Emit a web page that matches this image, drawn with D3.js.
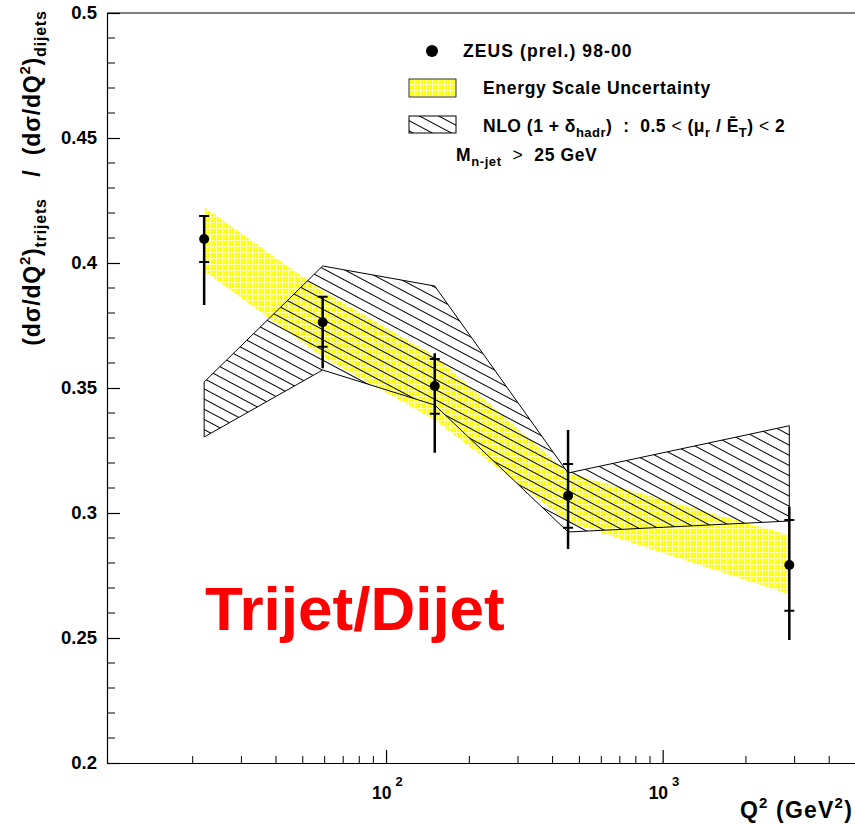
<!DOCTYPE html>
<html>
<head>
<meta charset="utf-8">
<script src="https://cdn.jsdelivr.net/npm/d3@7"></script>
<style>
  body { margin: 0; background: #fff; }
  svg { display: block; }
  text { font-family: "Liberation Sans", Arial, Helvetica, sans-serif; font-weight: bold; fill: #000; white-space: pre; }
</style>
</head>
<body>
<svg id="chart" width="855" height="824"></svg>
<script>
// Trijet / dijet cross-section ratio versus Q^2
const q2 = [22, 59, 150, 455, 2870];
const ratio = [0.4096, 0.3763, 0.3508, 0.3069, 0.2792];
const statLo = [0.4004, 0.3665, 0.3397, 0.2941, 0.2609];
const statHi = [0.4188, 0.3865, 0.3616, 0.3196, 0.2972];
const totLo = [0.3832, 0.3579, 0.3241, 0.2856, 0.2492];
const totHi = [0.4188, 0.3865, 0.3639, 0.3332, 0.3025];

// energy-scale uncertainty band
const esUp = [0.4224, 0.3888, 0.3628, 0.3160, 0.2912];
const esDown = [0.3968, 0.3624, 0.3372, 0.2965, 0.2675];

// NLO (1 + delta_hadr) band, renormalisation scale variation
const nloUp = [0.3524, 0.3988, 0.3908, 0.3160, 0.3349];
const nloDown = [0.3304, 0.3572, 0.3432, 0.2924, 0.2968];

const yMajor = [0.2, 0.25, 0.3, 0.35, 0.4, 0.45, 0.5];
const xMajor = [100, 1000];
const xMinor = [20, 30, 40, 50, 60, 70, 80, 90, 200, 300, 400, 500, 600, 700, 800, 900, 2000, 3000, 4000];

const svg = d3.select("#chart");
const x = d3.scaleLog().domain([9.8, 5000]).range([107, 856]);
const y = d3.scaleLinear().domain([0.2, 0.5]).range([763, 13]);

// fill patterns
const defs = svg.append("defs");
const es = defs.append("pattern").attr("id", "esFill")
  .attr("patternUnits", "userSpaceOnUse").attr("width", 3).attr("height", 3);
es.append("rect").attr("width", 3).attr("height", 3).attr("fill", "#ffff00");
es.append("rect").attr("width", 3).attr("height", 1).attr("fill", "#ffffb0");
es.append("rect").attr("width", 1).attr("height", 3).attr("fill", "#ffffb0");

const hatch = defs.append("pattern").attr("id", "nloFill")
  .attr("patternUnits", "userSpaceOnUse").attr("width", 20).attr("height", 9)
  .attr("patternTransform", "rotate(28)");
hatch.append("line").attr("x1", 0).attr("x2", 20).attr("y1", 4.5).attr("y2", 4.5)
  .attr("stroke", "#000").attr("stroke-width", 1);

const idx = d3.range(q2.length);
const bandArea = (up, down) => d3.area()
  .x(i => x(q2[i])).y0(i => y(down[i])).y1(i => y(up[i]))(idx);

// energy scale band
svg.append("path").attr("d", bandArea(esUp, esDown)).attr("fill", "url(#esFill)");

// NLO band with outline
svg.append("path").attr("d", bandArea(nloUp, nloDown))
  .attr("fill", "url(#nloFill)").attr("stroke", "#000").attr("stroke-width", 1);

// axes
const gy = svg.append("g").attr("transform", `translate(${x.range()[0]},0)`)
  .call(d3.axisLeft(y).tickValues(yMajor).tickSizeInner(-13).tickSizeOuter(0)
    .tickPadding(10).tickFormat(d => String(+d.toFixed(2))));
gy.selectAll("text").style("font-size", "18.5px").style("font-family", null);
gy.selectAll("line, path").attr("stroke", "#000").attr("stroke-width", 1.2);

const yMinor = d3.range(0.21, 0.5, 0.01).filter(v => Math.abs(v * 20 - Math.round(v * 20)) > 1e-6);
svg.append("g").selectAll("line").data(yMinor).join("line")
  .attr("x1", x.range()[0]).attr("x2", x.range()[0] + 8)
  .attr("y1", d => y(d)).attr("y2", d => y(d))
  .attr("stroke", "#000").attr("stroke-width", 1);

const gx = svg.append("g").attr("transform", `translate(0,${y.range()[0]})`)
  .call(d3.axisBottom(x).tickValues(xMajor).tickSizeInner(-13).tickSizeOuter(0).tickFormat(""));
gx.selectAll("line, path").attr("stroke", "#000").attr("stroke-width", 1.2);

svg.append("g").selectAll("line").data(xMinor).join("line")
  .attr("x1", d => x(d)).attr("x2", d => x(d))
  .attr("y1", y.range()[0]).attr("y2", y.range()[0] - 7)
  .attr("stroke", "#000").attr("stroke-width", 1);

// decade labels 10^n
xMajor.forEach(v => {
  const t = svg.append("text").attr("x", x(v) - 14).attr("y", y.range()[0] + 36)
    .style("font-size", "17.5px");
  t.append("tspan").text("10");
  t.append("tspan").attr("dx", 4).attr("dy", -13).style("font-size", "13px").text(Math.round(Math.log10(v)));
});

// top frame line
svg.append("line").attr("x1", x.range()[0]).attr("x2", x.range()[1])
  .attr("y1", y.range()[1]).attr("y2", y.range()[1])
  .attr("stroke", "#000").attr("stroke-width", 1.2);

// axis titles
const xt = svg.append("text").attr("x", 853).attr("y", 818).attr("text-anchor", "end")
  .style("font-size", "23px").style("letter-spacing", "1.2px");
xt.append("tspan").text("Q");
xt.append("tspan").attr("dy", -10).style("font-size", "15px").text("2");
xt.append("tspan").attr("dy", 10).text(" (GeV");
xt.append("tspan").attr("dy", -10).style("font-size", "15px").text("2");
xt.append("tspan").attr("dy", 10).text(")");

const yt = svg.append("text").attr("transform", "translate(40,178) rotate(-90)")
  .attr("text-anchor", "middle").style("font-size", "23px").style("letter-spacing", "0.8px");
yt.append("tspan").text("(dσ/dQ");
yt.append("tspan").attr("dy", -10).style("font-size", "15px").text("2");
yt.append("tspan").attr("dy", 10).text(")");
yt.append("tspan").attr("dy", 6).style("font-size", "16px").text("trijets");
yt.append("tspan").attr("dy", -6).text("   /  (dσ/dQ");
yt.append("tspan").attr("dy", -10).style("font-size", "15px").text("2");
yt.append("tspan").attr("dy", 10).text(")");
yt.append("tspan").attr("dy", 6).style("font-size", "16px").text("dijets");

// data: total error line, statistical crossbars, marker
const pts = svg.append("g");
idx.forEach(i => {
  const cx = x(q2[i]);
  pts.append("line").attr("x1", cx).attr("x2", cx).attr("y1", y(totLo[i])).attr("y2", y(totHi[i]))
    .attr("stroke", "#000").attr("stroke-width", 2.5);
  [statLo[i], statHi[i]].forEach(v => {
    pts.append("line").attr("x1", cx - 5).attr("x2", cx + 5).attr("y1", y(v)).attr("y2", y(v))
      .attr("stroke", "#000").attr("stroke-width", 2);
  });
  pts.append("circle").attr("cx", cx).attr("cy", y(ratio[i])).attr("r", 5).attr("fill", "#000");
});

// legend
const lg = svg.append("g");
lg.append("circle").attr("cx", 432).attr("cy", 51).attr("r", 6).attr("fill", "#000");
lg.append("text").attr("x", 463).attr("y", 57).style("font-size", "17.5px").style("letter-spacing", "1.1px")
  .text("ZEUS (prel.) 98-00");
lg.append("rect").attr("x", 409).attr("y", 79).attr("width", 47).attr("height", 18)
  .attr("fill", "url(#esFill)").attr("stroke", "#000").attr("stroke-width", 0.8);
lg.append("text").attr("x", 483).attr("y", 94).style("font-size", "17.5px").style("letter-spacing", "0.7px")
  .text("Energy Scale Uncertainty");
lg.append("rect").attr("x", 409).attr("y", 116).attr("width", 47).attr("height", 17)
  .attr("fill", "url(#nloFill)").attr("stroke", "#000").attr("stroke-width", 1);
const nl = lg.append("text").attr("x", 483).attr("y", 132).style("font-size", "17.5px").style("letter-spacing", "0.5px");
nl.append("tspan").text("NLO (1 + δ");
nl.append("tspan").attr("dy", 5).style("font-size", "13px").text("hadr");
nl.append("tspan").attr("dy", -5).text(")  :  0.5 ");
nl.append("tspan").style("font-weight", "normal").text("<");
nl.append("tspan").text(" (μ");
nl.append("tspan").attr("dy", 5).style("font-size", "13px").text("r");
nl.append("tspan").attr("dy", -5).text(" / Ē");
nl.append("tspan").attr("dy", 5).style("font-size", "13px").text("T");
nl.append("tspan").attr("dy", -5).text(") ");
nl.append("tspan").style("font-weight", "normal").text("<");
nl.append("tspan").text(" 2");
const mt = lg.append("text").attr("x", 456).attr("y", 161).style("font-size", "17.5px").style("letter-spacing", "0.6px");
mt.append("tspan").text("M");
mt.append("tspan").attr("dy", 5).style("font-size", "13px").text("n-jet");
mt.append("tspan").attr("dy", -5).text("  ");
mt.append("tspan").style("font-weight", "normal").text(">");
mt.append("tspan").text("  25 GeV");

// process label
svg.append("text").attr("x", 205).attr("y", 630).style("font-size", "62px").style("fill", "#ff0000")
  .text("Trijet/Dijet");
</script>
</body>
</html>
